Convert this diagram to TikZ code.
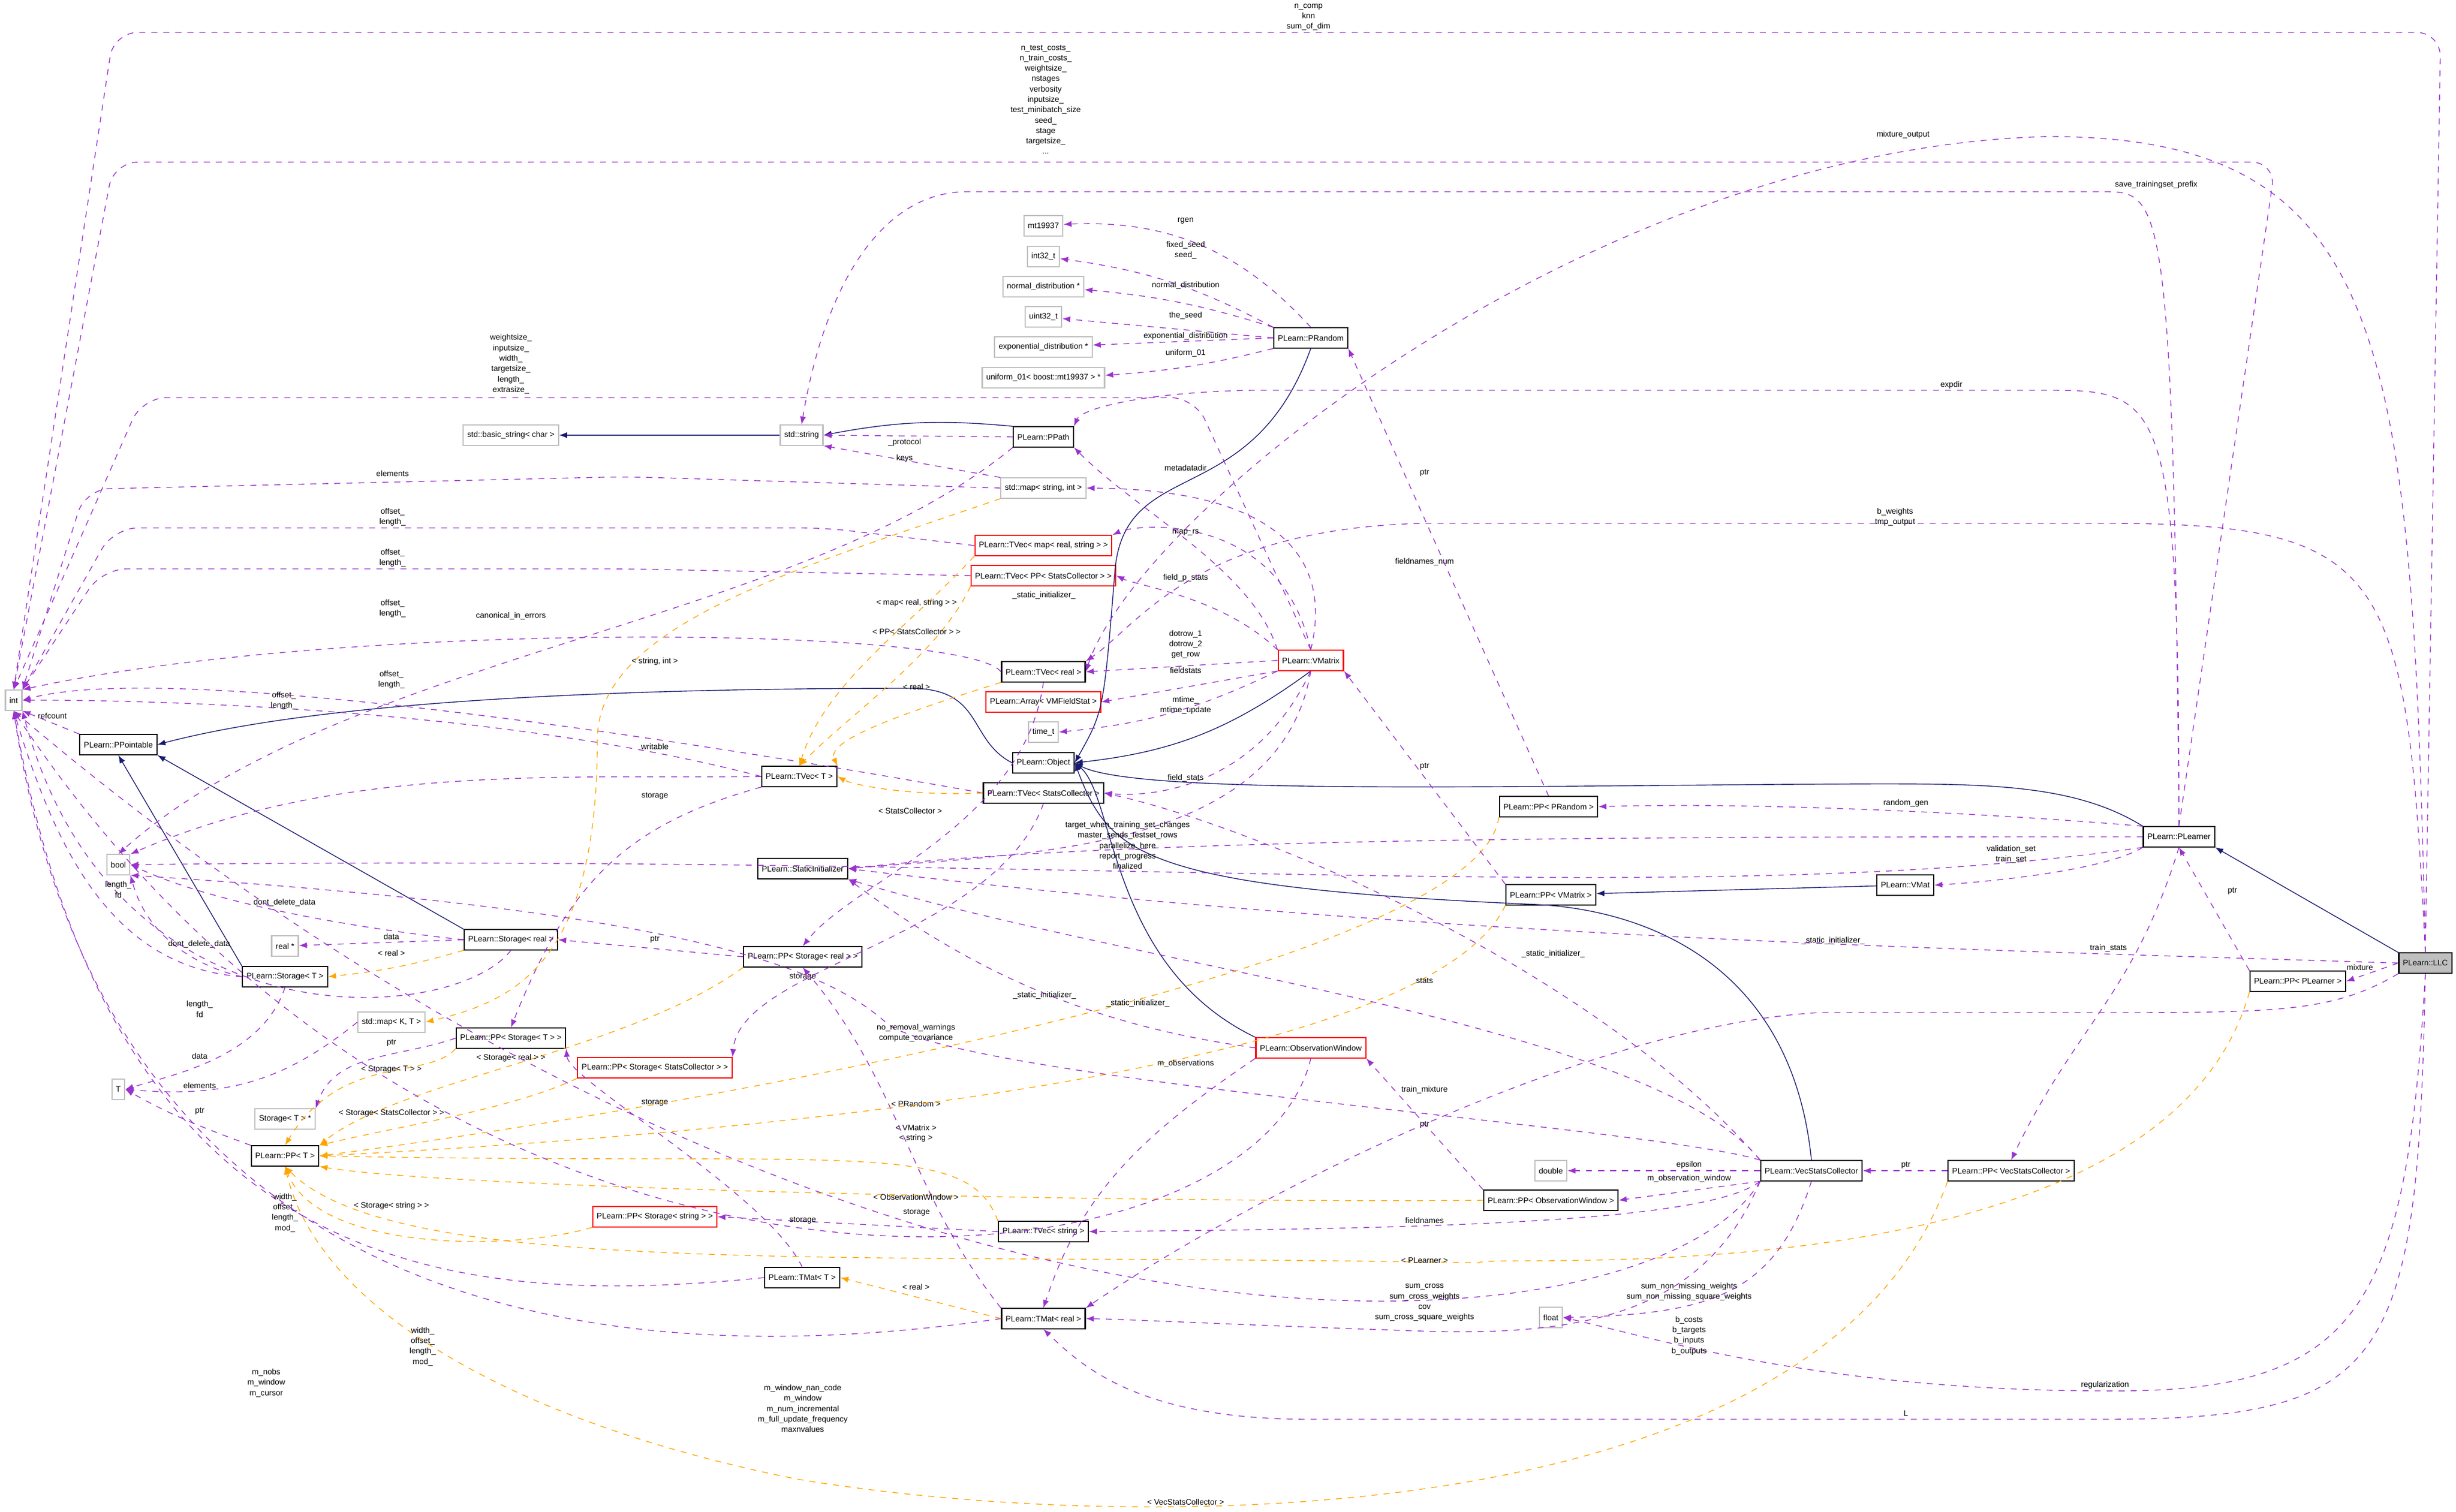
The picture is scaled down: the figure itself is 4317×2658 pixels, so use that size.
\documentclass[tikz,border=0pt]{standalone}
\usepackage{fontspec}
\setmainfont{Liberation Sans}
\usetikzlibrary{arrows.meta, positioning}
\definecolor{usecol}{HTML}{9A32CD}
\definecolor{inhcol}{HTML}{191970}
\definecolor{tplcol}{HTML}{FFA500}
\definecolor{extcol}{HTML}{BFBFBF}
\tikzset{
  cls/.style={draw=black, semithick, rectangle, minimum height=10pt, inner xsep=2pt, inner ysep=1pt, font=\fontsize{4}{4.6}\selectfont},
  ext/.style={cls, draw=extcol},
  redcls/.style={cls, draw=red},
  lbl/.style={font=\fontsize{4}{5.2}\selectfont, align=center, inner sep=0pt},
  use/.style={draw=usecol, dashed, thin, -{Latex[length=4pt,width=3pt]}},
  inh/.style={draw=inhcol, thin, -{Latex[length=4pt,width=3pt]}},
  tpl/.style={draw=tplcol, dashed, thin, -{Latex[length=4pt,width=3pt]}},
}
\begin{document}
\begin{tikzpicture}[x=0.01cm, y=-0.01cm]
    \useasboundingbox (0,0) rectangle (4317,2658);

    % classes and types
    \node[ext] (int) at (24,1231) {int};
    \node[cls] (pptr) at (208,1309) {PLearn::PPointable};
    \node[ext] (bool) at (208,1520) {bool};
    \node[ext] (realp) at (501,1663) {real *};
    \node[cls] (storreal) at (898,1652) {PLearn::Storage< real >};
    \node[cls] (storT) at (501,1717) {PLearn::Storage< T >};
    \node[cls] (tvecT) at (1405,1365) {PLearn::TVec< T >};
    \node[cls] (statinit) at (1411,1527) {PLearn::StaticInitializer};
    \node[cls] (ppstorreal) at (1411,1682) {PLearn::PP< Storage< real > >};
    \node[ext] (mapKT) at (688,1797) {std::map< K, T >};
    \node[cls] (ppstorT) at (898,1825) {PLearn::PP< Storage< T > >};
    \node[redcls] (ppstorsc) at (1151,1877) {PLearn::PP< Storage< StatsCollector > >};
    \node[ext] (T) at (208,1915) {T};
    \node[ext] (storTp) at (501,1967) {Storage< T > *};
    \node[cls] (ppT) at (501,2032) {PLearn::PP< T >};
    \node[redcls] (ppstorstr) at (1151,2139) {PLearn::PP< Storage< string > >};
    \node[cls] (tmatT) at (1410,2246) {PLearn::TMat< T >};
    \node[cls] (tvecstr) at (1834,2165) {PLearn::TVec< string >};
    \node[cls] (tmatreal) at (1834,2318) {PLearn::TMat< real >};
    \node[redcls] (obswin) at (2304,1842) {PLearn::ObservationWindow};
    \node[ext] (mt) at (1834,397) {mt19937};
    \node[ext] (i32) at (1834,451) {int32\_t};
    \node[ext] (normd) at (1834,504) {normal\_distribution *};
    \node[ext] (u32) at (1834,557) {uint32\_t};
    \node[ext] (expd) at (1834,610) {exponential\_distribution *};
    \node[ext] (unif) at (1834,664) {uniform\_01< boost::mt19937 > *};
    \node[cls] (prandom) at (2304,594) {PLearn::PRandom};
    \node[ext] (bstr) at (898,765) {std::basic\_string< char >};
    \node[ext] (string) at (1409,765) {std::string};
    \node[cls] (ppath) at (1834,768) {PLearn::PPath};
    \node[ext] (mapsi) at (1834,858) {std::map< string, int >};
    \node[redcls] (tvecmap) at (1834,959) {PLearn::TVec< map< real, string > >};
    \node[redcls] (tvecppsc) at (1834,1012) {PLearn::TVec< PP< StatsCollector > >};
    \node[redcls] (vmatrix) at (2304,1161) {PLearn::VMatrix};
    \node[cls] (tvecreal) at (1834,1181) {PLearn::TVec< real >};
    \node[redcls] (arrvm) at (1834,1234) {PLearn::Array< VMFieldStat >};
    \node[ext] (timet) at (1834,1287) {time\_t};
    \node[cls] (object) at (1834,1341) {PLearn::Object};
    \node[cls] (tvecsc) at (1834,1394) {PLearn::TVec< StatsCollector >};
    \node[cls] (pprandom) at (2722,1418) {PLearn::PP< PRandom >};
    \node[cls] (plearner) at (3830,1471) {PLearn::PLearner};
    \node[cls] (vmat) at (3349,1556) {PLearn::VMat};
    \node[cls] (ppvmatrix) at (2726,1573) {PLearn::PP< VMatrix >};
    \node[cls, fill=extcol] (llc) at (4263,1693) {PLearn::LLC};
    \node[cls] (ppplearner) at (4039,1725) {PLearn::PP< PLearner >};
    \node[cls] (vsc) at (3184,2058) {PLearn::VecStatsCollector};
    \node[cls] (ppvsc) at (3535,2058) {PLearn::PP< VecStatsCollector >};
    \node[ext] (double) at (2726,2058) {double};
    \node[cls] (ppobswin) at (2726,2110) {PLearn::PP< ObservationWindow >};
    \node[ext] (float) at (2726,2316) {float};

    % inheritance
    \draw[inh] (string) -- (bstr);
    \draw[inh] (ppath.north west) to[bend right=8] (string.east);
    \draw[inh] (prandom.south) .. controls (2200,900) and (1980,800) .. (1960,1000) .. controls (1940,1250) .. (object.east);
    \draw[inh] (vmatrix.south) to[bend left=15] (object.east);
    \draw[inh] (obswin.north west) .. controls (1950,1700) and (1960,1400) .. (object.east);
    \draw[inh] (vsc.north) .. controls (3150,1700) and (2900,1600) .. (2700,1590) .. controls (2000,1560) and (1950,1500) .. (object.east);
    \draw[inh] (plearner.north west) .. controls (3650,1380) and (3500,1378) .. (3300,1378) .. controls (2700,1380) and (2000,1400) .. (object.east);
    \draw[inh] (object.west) .. controls (1700,1300) and (1730,1210) .. (1600,1210) .. controls (900,1210) and (500,1250) .. (pptr.east);
    \draw[inh] (storreal.north west) -- (pptr.south east);
    \draw[inh] (storT.north west) -- (pptr.south);
    \draw[inh] (vmat) -- (ppvmatrix);
    \draw[inh] (llc.north west) -- (plearner.south east);

    % PRandom members
    \draw[use] (prandom.north) to[bend right=25] (mt);
    \draw[use] (prandom.north west) to[bend right=10] (i32);
    \draw[use] (prandom.north west) to[bend right=6] (normd);
    \draw[use] (prandom.west) -- (u32);
    \draw[use] (prandom.west) -- (expd);
    \draw[use] (prandom.south west) to[bend left=5] (unif);
    \node[lbl] (lrgen) at (2084,388) {rgen};
    \node[lbl] (lseed) at (2084,440) {fixed\_seed\\seed\_};
    \node[lbl] (lnorm) at (2084,502) {normal\_distribution};
    \node[lbl] (lthe) at (2084,555) {the\_seed};
    \node[lbl] (lexp) at (2084,591) {exponential\_distribution};
    \node[lbl] (lunif) at (2084,621) {uniform\_01};

    % string and map members
    \draw[use] (ppath.west) -- (string.east);
    \node[lbl] (lproto) at (1590,778) {\_protocol};
    \draw[use] (mapsi.north west) -- (string.south east);
    \node[lbl] (lkeys) at (1590,806) {keys};
    \draw[use, rounded corners=12pt] (mapsi.west) -- (1100,838) -- (150,860) -- (int.north east);
    \node[lbl] (lelem) at (690,832) {elements};
    \draw[use] (ppath.south west) .. controls (1400,1100) and (600,1150) .. (bool.north);
    \node[lbl] (lcanon) at (898,1083) {canonical\_in\_errors};

    % TVec offset and length
    \draw[use, rounded corners=12pt] (tvecmap.west) -- (1450,928) -- (200,928) -- (int.north east);
    \node[lbl] (loff1) at (690,909) {offset\_\\length\_};
    \draw[use, rounded corners=12pt] (tvecppsc.west) -- (1100,1000) -- (180,1000) -- (int.north east);
    \node[lbl] (loff2) at (690,981) {offset\_\\length\_};
    \draw[use] (tvecreal.west) .. controls (1700,1100) and (600,1090) .. (int.north east);
    \node[lbl] (loff3) at (690,1070) {offset\_\\length\_};
    \draw[use] (tvecsc.west) .. controls (1200,1300) and (300,1160) .. (int.east);
    \node[lbl] (loff4) at (688,1195) {offset\_\\length\_};
    \draw[use] (tvecT.west) .. controls (900,1250) and (300,1230) .. (int.east);
    \node[lbl] (loff5) at (499,1232) {offset\_\\length\_};
    \draw[use] (pptr.north west) -- (int.south east);
    \node[lbl] (lref) at (92,1258) {refcount};

    % Storage members
    \draw[use] (storreal.west) .. controls (700,1640) and (400,1600) .. (bool.east);
    \node[lbl] (ldont1) at (500,1587) {dont\_delete\_data};
    \draw[use] (storT.west) .. controls (350,1700) and (260,1650) .. (bool.south east);
    \node[lbl] (ldont2) at (350,1660) {dont\_delete\_data};
    \draw[use] (storreal.west) -- (realp);
    \node[lbl] (ldata1) at (688,1646) {data};
    \draw[tpl] (storreal.south west) to[bend left=5] (storT.east);
    \node[lbl] (lreal1) at (688,1675) {< real >};
    \draw[use] (storT.south) .. controls (460,1860) and (300,1890) .. (T.east);
    \node[lbl] (ldata2) at (351,1856) {data};
    \draw[use] (storreal.south) .. controls (800,1800) and (200,1850) .. (int.south east);
    \node[lbl] (lfd1) at (351,1774) {length\_\\fd};
    \draw[use] (storT.west) .. controls (200,1700) and (100,1500) .. (int.south);
    \node[lbl] (lfd2) at (208,1564) {length\_\\fd};

    % PP members
    \draw[use] (ppstorreal.west) -- (storreal.east);
    \node[lbl] (lptr1) at (1151,1651) {ptr};
    \draw[use] (ppstorT.west) .. controls (700,1860) and (590,1850) .. (storTp.north east);
    \node[lbl] (lptr2) at (688,1833) {ptr};
    \draw[use] (ppT.north west) .. controls (350,1980) and (300,1960) .. (T.east);
    \node[lbl] (lptr3) at (351,1953) {ptr};
    \draw[use] (mapKT.west) .. controls (500,1900) and (400,1930) .. (T.east);
    \node[lbl] (lelem2) at (351,1908) {elements};

    % storage pointers
    \draw[use] (tvecT.south west) .. controls (1100,1450) and (1000,1550) .. (ppstorT.north);
    \node[lbl] (lsto1) at (1151,1399) {storage};
    \draw[use] (tvecreal.south) .. controls (1800,1450) and (1500,1550) .. (ppstorreal.north);
    \node[lbl] (lsto2) at (1411,1717) {storage};
    \draw[use] (tvecsc.south) .. controls (1750,1650) and (1300,1700) .. (ppstorsc.north east);
    \node[lbl] (lsto3) at (1151,1938) {storage};
    \draw[use] (tvecstr.west) -- (ppstorstr.east);
    \node[lbl] (lsto4) at (1411,2145) {storage};
    \draw[use] (tmatreal.north west) .. controls (1600,2100) and (1580,1900) .. (ppstorreal.south);
    \node[lbl] (lsto5) at (1611,2131) {storage};
    \draw[use] (tmatT.north) .. controls (1350,2100) and (1000,1900) .. (ppstorT.south east);

    % TVec and TMat members
    \draw[use] (tvecT.west) .. controls (1000,1370) and (600,1340) .. (bool.north east);
    \node[lbl] (lwrit) at (1151,1312) {writable};
    \draw[use] (tmatT.west) .. controls (800,2300) and (200,2250) .. (int.south);
    \node[lbl] (lwid1) at (501,2132) {width\_\\offset\_\\length\_\\mod\_};
    \draw[use] (tmatreal.west) .. controls (1200,2400) and (200,2400) .. (int.south);
    \node[lbl] (lwid2) at (743,2367) {width\_\\offset\_\\length\_\\mod\_};

    % template instances
    \draw[tpl] (tvecreal.south west) .. controls (1600,1250) and (1450,1300) .. (tvecT.north east);
    \node[lbl] (ltreal) at (1611,1207) {< real >};
    \draw[tpl] (tvecsc.west) .. controls (1600,1400) and (1500,1380) .. (tvecT.east);
    \node[lbl] (ltsc) at (1600,1425) {< StatsCollector >};
    \draw[tpl] (tvecmap.south west) .. controls (1600,1100) and (1450,1200) .. (tvecT.north);
    \node[lbl] (ltmap) at (1611,1060) {< map< real, string > >};
    \draw[tpl] (tvecppsc.south west) .. controls (1650,1150) and (1500,1250) .. (tvecT.north);
    \node[lbl] (ltppsc) at (1611,1110) {< PP< StatsCollector > >};
    \draw[tpl] (mapsi.south west) .. controls (1400,1000) and (1050,1100) .. (1050,1300) .. controls (1050,1700) and (900,1760) .. (mapKT.east);
    \node[lbl] (ltsi) at (1151,1163) {< string, int >};
    \draw[tpl] (ppstorreal.south west) .. controls (1100,1850) and (700,1900) .. (ppT.north east);
    \node[lbl] (ltsr) at (898,1860) {< Storage< real > >};
    \draw[tpl] (ppstorT.south west) .. controls (750,1900) and (600,1850) .. (ppT.north);
    \node[lbl] (ltst) at (688,1880) {< Storage< T > >};
    \draw[tpl] (ppstorsc.south west) .. controls (900,1950) and (700,1980) .. (ppT.north east);
    \node[lbl] (ltssc) at (688,1957) {< Storage< StatsCollector > >};
    \draw[tpl] (ppstorstr.south west) .. controls (900,2200) and (560,2200) .. (ppT.south);
    \node[lbl] (ltss) at (688,2120) {< Storage< string > >};
    \draw[tpl] (pprandom.south west) .. controls (2600,1700) and (1200,1950) .. (ppT.east);
    \node[lbl] (ltpr) at (1610,1940) {< PRandom >};
    \draw[tpl] (ppvmatrix.south west) .. controls (2500,1900) and (1200,2000) .. (ppT.east);
    \node[lbl] (ltvm) at (1610,1982) {< VMatrix >};
    \draw[tpl] (tvecstr.north west) .. controls (1700,2000) and (1500,2050) .. (ppT.east);
    \node[lbl] (ltstr) at (1610,2001) {< string >};
    \draw[tpl] (ppobswin.west) .. controls (2000,2115) and (800,2090) .. (ppT.south east);
    \node[lbl] (ltow) at (1610,2104) {< ObservationWindow >};
    \draw[tpl] (ppplearner.south west) .. controls (3800,2300) and (2600,2200) .. (2600,2220) .. controls (1500,2200) and (700,2250) .. (ppT.south);
    \node[lbl] (ltpl) at (2504,2216) {< PLearner >};
    \draw[tpl] (ppvsc.south west) .. controls (3200,2700) and (2000,2700) .. (1400,2600) .. controls (900,2500) and (560,2300) .. (ppT.south);
    \node[lbl] (ltvsc) at (2084,2640) {< VecStatsCollector >};
    \draw[tpl] (tmatreal.west) -- (tmatT.east);
    \node[lbl] (ltmr) at (1610,2262) {< real >};

    % VMatrix members
    \draw[use] (vmatrix.north west) .. controls (2200,1000) and (2000,900) .. (ppath.south east);
    \node[lbl] (lmeta) at (2084,822) {metadatadir};
    \draw[use] (vmatrix.north) .. controls (2250,900) and (2000,920) .. (tvecmap.north east);
    \node[lbl] (lmap) at (2084,936) {map\_rs};
    \draw[use] (vmatrix.north west) .. controls (2150,1050) and (2000,1030) .. (tvecppsc.east);
    \node[lbl] (lfps) at (2084,1016) {field\_p\_stats};
    \draw[use] (vmatrix.west) -- (tvecreal.east);
    \node[lbl] (ldot) at (2084,1133) {dotrow\_1\\dotrow\_2\\get\_row};
    \draw[use] (vmatrix.south west) -- (arrvm.east);
    \node[lbl] (lfst) at (2084,1178) {fieldstats};
    \draw[use] (vmatrix.south west) to[bend left=10] (timet.east);
    \node[lbl] (lmt) at (2084,1240) {mtime\_\\mtime\_update};
    \draw[use] (vmatrix.south) .. controls (2200,1400) and (2000,1400) .. (tvecsc.east);
    \node[lbl] (lfs) at (2084,1368) {field\_stats};
    \draw[use] (vmatrix.south) .. controls (2250,1500) and (1800,1500) .. (statinit.east);
    \draw[use] (vmatrix.north) .. controls (2350,950) and (2200,860) .. (mapsi.east);
    \draw[use, rounded corners=12pt] (vmatrix.north) -- (2100,699) -- (250,699) -- (int.north);
    \node[lbl] (lvmi) at (898,640) {weightsize\_\\inputsize\_\\width\_\\targetsize\_\\length\_\\extrasize\_};
    \node[lbl] (lfnum) at (2504,988) {fieldnames\_num};
    \node[lbl] (lsi1) at (1835,1047) {\_static\_initializer\_};

    % pointer wrappers
    \draw[use] (pprandom.north) -- (prandom.south east);
    \node[lbl] (lptr4) at (2504,831) {ptr};
    \draw[use] (ppvmatrix.north west) -- (vmatrix.south east);
    \node[lbl] (lptr5) at (2504,1347) {ptr};
    \draw[use] (ppobswin.north west) -- (obswin.south east);
    \node[lbl] (lptr6) at (2504,1977) {ptr};
    \draw[use] (ppvsc.west) -- (vsc.east);
    \node[lbl] (lptr7) at (3350,2048) {ptr};
    \draw[use] (ppplearner.north west) -- (plearner.south);
    \node[lbl] (lptr8) at (3924,1566) {ptr};

    % PLearner members
    \draw[use] (plearner.north west) .. controls (3500,1430) and (3100,1410) .. (pprandom.east);
    \node[lbl] (lrg) at (3350,1412) {random\_gen};
    \draw[use] (plearner.south west) .. controls (3700,1530) and (3500,1550) .. (vmat.east);
    \node[lbl] (lvs) at (3535,1502) {validation\_set\\train\_set};
    \draw[use] (plearner.south) .. controls (3750,1750) and (3650,1800) .. (ppvsc.north);
    \node[lbl] (ltrs) at (3706,1667) {train\_stats};
    \draw[use] (plearner.west) .. controls (3000,1471) and (2000,1470) .. (statinit.east);
    \draw[use] (plearner.north) .. controls (3820,350) and (3800,337) .. (3700,337) -- (1700,337) .. controls (1550,337) and (1450,500) .. (string.north);
    \node[lbl] (lsave) at (3790,325) {save\_trainingset\_prefix};
    \draw[use] (plearner.north) .. controls (3830,700) and (3800,686) .. (3600,686) -- (2200,686) .. controls (2000,690) and (1900,720) .. (ppath.north east);
    \node[lbl] (lexpd) at (3430,677) {expdir};
    \draw[use, rounded corners=12pt] (plearner.north) -- (4000,285) -- (200,285) -- (int.north);
    \node[lbl] (lplint) at (1838,175) {n\_test\_costs\_\\n\_train\_costs\_\\weightsize\_\\nstages\\verbosity\\inputsize\_\\test\_minibatch\_size\\seed\_\\stage\\targetsize\_\\...};
    \draw[use] (plearner.south west) .. controls (3000,1600) and (2000,1500) .. (bool.east);
    \node[lbl] (ltw) at (1982,1486) {target\_when\_training\_set\_changes\\master\_sends\_testset\_rows\\parallelize\_here\\report\_progress\\finalized};
    \node[lbl] (lsi2) at (3222,1654) {\_static\_initializer\_};

    % LLC members
    \draw[use, rounded corners=12pt] (llc.north) -- (4290,57) -- (200,57) -- (int.north);
    \node[lbl] (lcomp) at (2300,30) {n\_comp\\knn\\sum\_of\_dim};
    \draw[use] (llc.west) -- (ppplearner.east);
    \node[lbl] (lmix) at (4148,1700) {mixture};
    \draw[use] (llc.west) .. controls (3500,1670) and (2500,1650) .. (statinit.east);
    \node[lbl] (lsi3) at (2730,1677) {\_static\_initializer\_};
    \draw[use] (llc.north) .. controls (4240,600) and (4200,240) .. (3600,240) .. controls (2800,260) and (2000,900) .. (tvecreal.east);
    \node[lbl] (lmo) at (3345,237) {mixture\_output};
    \draw[use] (llc.north) .. controls (4230,1000) and (4200,920) .. (3700,920) -- (2500,920) .. controls (2100,930) and (2000,1100) .. (tvecreal.north east);
    \node[lbl] (lbw) at (3331,909) {b\_weights\\tmp\_output};
    \draw[use] (llc.south west) .. controls (4100,1780) and (4000,1780) .. (3700,1780) -- (3200,1780) .. controls (2800,1800) and (2200,2100) .. (tmatreal.north east);
    \node[lbl] (ltm) at (2504,1916) {train\_mixture};
    \draw[use] (llc.south) .. controls (4230,2300) and (4150,2450) .. (3700,2445) .. controls (3200,2445) and (2900,2350) .. (float.east);
    \node[lbl] (lreg) at (3700,2435) {regularization};
    \node[lbl] (lbc) at (2969,2348) {b\_costs\\b\_targets\\b\_inputs\\b\_outputs};
    \draw[use] (llc.south) .. controls (4250,2400) and (4200,2495) .. (3700,2495) -- (2300,2495) .. controls (2000,2495) and (1900,2400) .. (tmatreal.south);
    \node[lbl] (lL) at (3350,2485) {L};

    % VecStatsCollector members
    \draw[use] (vsc.west) -- (double.east);
    \node[lbl] (leps) at (2969,2048) {epsilon};
    \draw[use] (vsc.south west) -- (ppobswin.east);
    \node[lbl] (lmow) at (2969,2072) {m\_observation\_window};
    \draw[use] (vsc.south west) .. controls (3000,2150) and (2500,2160) .. (tvecstr.east);
    \node[lbl] (lfn) at (2504,2145) {fieldnames};
    \draw[use] (vsc.south west) .. controls (3000,2300) and (2800,2350) .. (2500,2340) .. controls (2200,2330) and (2000,2320) .. (tmatreal.east);
    \node[lbl] (lsc) at (2504,2290) {sum\_cross\\sum\_cross\_weights\\cov\\sum\_cross\_square\_weights};
    \draw[use] (vsc.south) .. controls (3120,2280) and (3000,2310) .. (float.east);
    \node[lbl] (lsnm) at (2969,2271) {sum\_non\_missing\_weights\\sum\_non\_missing\_square\_weights};
    \draw[use] (vsc.north west) .. controls (2800,1700) and (2200,1450) .. (tvecsc.east);
    \node[lbl] (lstats) at (2504,1724) {stats};
    \draw[use] (vsc.north west) .. controls (2900,1800) and (2000,1700) .. (statinit.south east);
    \node[lbl] (lsi4) at (2000,1764) {\_static\_initializer\_};
    \draw[use] (vsc.north west) .. controls (2900,1980) and (1700,1900) .. (1560,1800) .. controls (1450,1700) and (1200,1600) .. (bool.south east);
    \node[lbl] (lnrw) at (1610,1816) {no\_removal\_warnings\\compute\_covariance};
    \draw[use] (vsc.south west) .. controls (2900,2400) and (1500,2500) .. (int.south);
    \node[lbl] (lmwin) at (1411,2476) {m\_window\_nan\_code\\m\_window\\m\_num\_incremental\\m\_full\_update\_frequency\\maxnvalues};

    % ObservationWindow members
    \draw[use] (obswin.south west) .. controls (2000,2000) and (1900,2100) .. (tmatreal.north);
    \node[lbl] (lmobs) at (2084,1870) {m\_observations};
    \draw[use] (obswin.west) .. controls (1900,1800) and (1700,1700) .. (statinit.south east);
    \node[lbl] (lsi5) at (1836,1750) {\_static\_initializer\_};
    \draw[use] (obswin.south) .. controls (2200,2300) and (800,2420) .. (int.south);
    \node[lbl] (lnobs) at (468,2431) {m\_nobs\\m\_window\\m\_cursor};
\end{tikzpicture}
\end{document}
